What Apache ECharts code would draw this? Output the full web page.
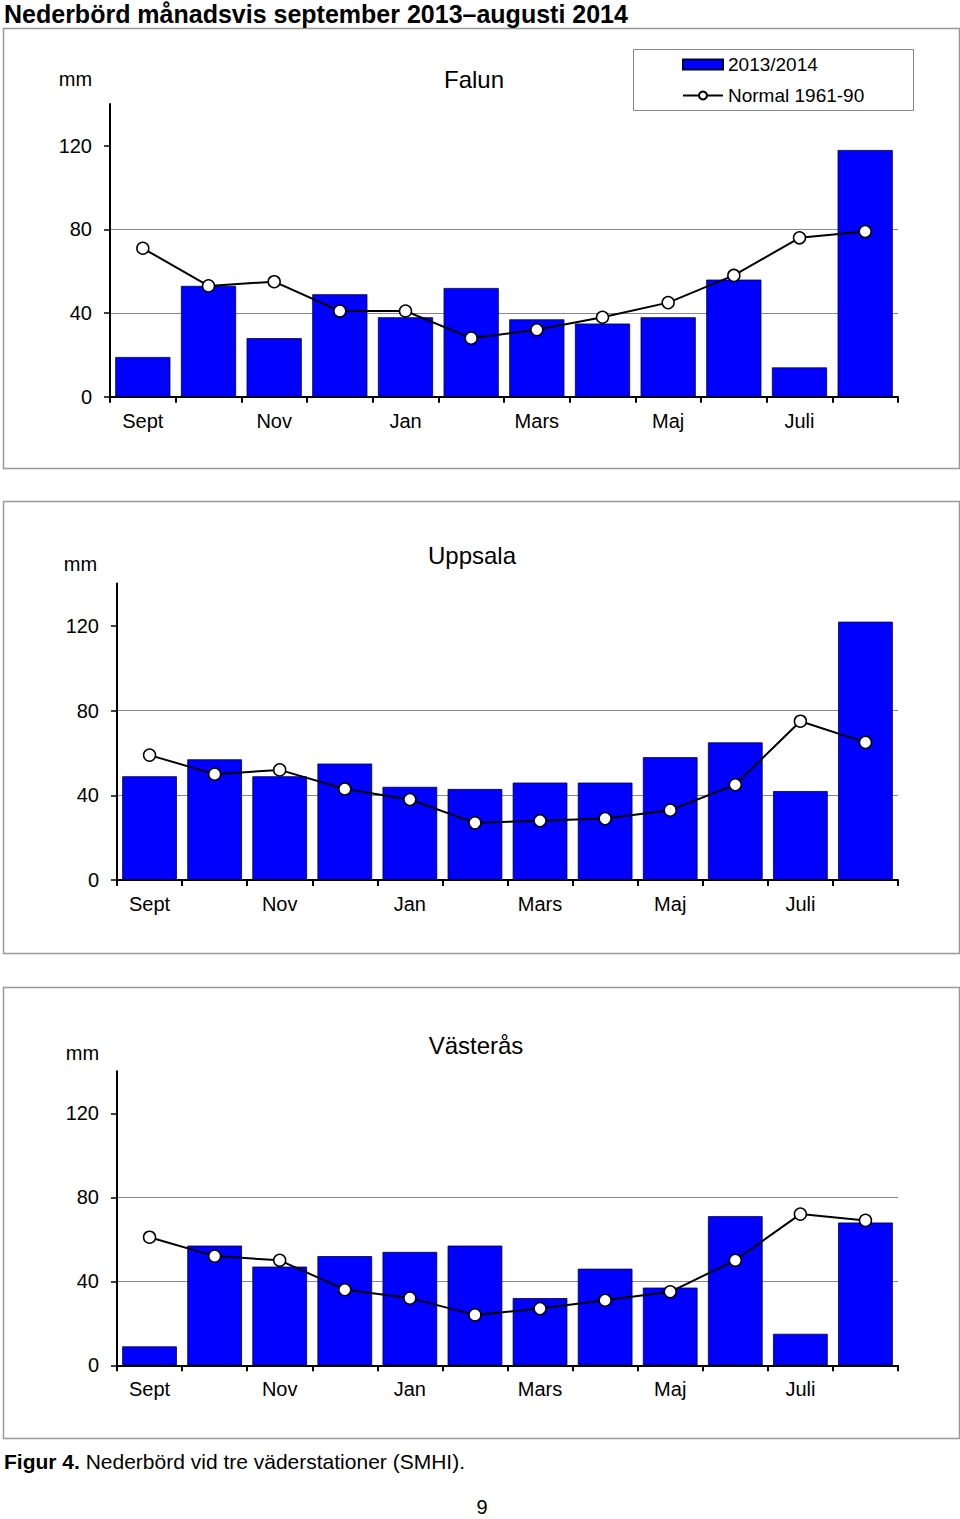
<!DOCTYPE html>
<html><head><meta charset="utf-8">
<script src="https://cdn.jsdelivr.net/npm/echarts@6/dist/echarts.min.js"></script>
<style>html,body{margin:0;padding:0;background:#fff}#c{width:960px;height:1519px}</style>
</head><body><div id="c"></div>
<script>
// ---- data ----
const months = ['Sept','Okt','Nov','Dec','Jan','Feb','Mars','Apr','Maj','Juni','Juli','Aug'];
const yTicks = [0, 40, 80, 120];
const stations = ['Falun', 'Uppsala', 'Västerås'];
const falun2013 = [19, 53, 28, 49, 38, 52, 37, 35, 38, 56, 14, 118];
const falunNormal = [71, 53, 55, 41, 41, 28, 32, 38, 45, 58, 76, 79];
const uppsala2013 = [49, 57, 49, 55, 44, 43, 46, 46, 58, 65, 42, 122];
const uppsalaNormal = [59, 50, 52, 43, 38, 27, 28, 29, 33, 45, 75, 65];
const vasteras2013 = [9, 57, 47, 52, 54, 57, 32, 46, 37, 71, 15, 68];
const vasterasNormal = [61, 52, 50, 36, 32, 24, 27, 31, 35, 50, 72, 69];
const barValues = [falun2013, uppsala2013, vasteras2013];
const lineValues = [falunNormal, uppsalaNormal, vasterasNormal];
const seriesNames = ['2013/2014', 'Normal 1961-90'];

// ---- layout ----
const FF = '"Liberation Sans", Arial, Helvetica, sans-serif';
const grids = [
  {left: 110, top: 104, width: 788, height: 292.7},
  {left: 117, top: 583.6, width: 781, height: 296.4},
  {left: 117, top: 1071.3, width: 781, height: 294}
];
const frames = [[3, 28, 956, 440], [3, 501, 956, 452], [3, 987, 956, 451]];
const mmPos = [[75.5, 79], [80.5, 564], [82.5, 1053]];
const titlePos = [[474, 79], [472, 555], [476, 1045]];

const xAxes = [], yAxes = [], series = [], graphics = [];
for (let i = 0; i < 3; i++) {
  xAxes.push({
    type: 'category', gridIndex: i, data: months, boundaryGap: true,
    axisLine: {lineStyle: {color: '#000', width: 2}},
    axisTick: {show: true, interval: 0, length: 6, lineStyle: {color: '#000', width: 2}},
    axisLabel: {interval: 1, color: '#000', fontSize: 20, fontFamily: FF, margin: 14},
    splitLine: {show: false}
  });
  yAxes.push({
    type: 'value', gridIndex: i, min: 0, max: 140,
    axisLine: {show: true, lineStyle: {color: '#000', width: 2}},
    axisTick: {show: true, length: 6, customValues: yTicks, lineStyle: {color: '#000', width: 1.5}},
    axisLabel: {customValues: yTicks, color: '#000', fontSize: 20, fontFamily: FF, margin: 18},
    splitLine: {show: true, showMaxLine: false, lineStyle: {color: '#888', width: 1}}
  });
  series.push({
    name: seriesNames[0], type: 'bar', xAxisIndex: i, yAxisIndex: i,
    data: barValues[i], barWidth: '84%',
    itemStyle: {color: '#0000ff', borderColor: '#000033', borderWidth: 0.8},
    animation: false
  });
  series.push({
    name: seriesNames[1], type: 'line', xAxisIndex: i, yAxisIndex: i,
    data: lineValues[i], symbol: 'circle', symbolSize: 12, z: 5,
    lineStyle: {color: '#000', width: 2},
    itemStyle: {color: '#fff', borderColor: '#000', borderWidth: 1.5},
    animation: false
  });
  const f = frames[i];
  graphics.push({type: 'rect', shape: {x: f[0] + 0.5, y: f[1] + 0.5, width: f[2], height: f[3]},
    style: {fill: 'none', stroke: '#999', lineWidth: 1.5}, z: -1});
  graphics.push({type: 'text', x: mmPos[i][0], y: mmPos[i][1],
    style: {text: 'mm', fontSize: 20, fontFamily: FF, fill: '#000', align: 'center', verticalAlign: 'middle'}});
  graphics.push({type: 'text', x: titlePos[i][0], y: titlePos[i][1],
    style: {text: stations[i], fontSize: 24, fontFamily: FF, fill: '#000', align: 'center', verticalAlign: 'middle'}});
}
// legend box
graphics.push({type: 'rect', shape: {x: 633.5, y: 49.5, width: 280, height: 61},
  style: {fill: '#fff', stroke: '#888', lineWidth: 1}, z: -1});
// heading, caption, page number
graphics.push({type: 'text', x: 4, y: 14,
  style: {text: 'Nederbörd månadsvis september 2013–augusti 2014', fontSize: 25, fontWeight: 'bold',
    fontFamily: FF, fill: '#000', verticalAlign: 'middle'}});
graphics.push({type: 'text', x: 4, y: 1461,
  style: {text: '{b|Figur 4.} Nederbörd vid tre väderstationer (SMHI).', fontSize: 21, fontFamily: FF,
    fill: '#000', verticalAlign: 'middle',
    rich: {b: {fontWeight: 'bold', fontSize: 21, fontFamily: FF, fill: '#000'}}}});
graphics.push({type: 'text', x: 482, y: 1507,
  style: {text: '9', fontSize: 20, fontFamily: FF, fill: '#000', align: 'center', verticalAlign: 'middle'}});

const chart = echarts.init(document.getElementById('c'), null, {renderer: 'svg'});
chart.setOption({
  animation: false,
  backgroundColor: '#fff',
  grid: grids.map(g => Object.assign({containLabel: false}, g)),
  xAxis: xAxes,
  yAxis: yAxes,
  legend: {
    data: [{name: seriesNames[0], icon: 'rect'}, {name: seriesNames[1]}],
    orient: 'vertical', left: 682, top: 55, itemWidth: 40, itemHeight: 10,
    itemGap: 12, padding: 0,
    textStyle: {fontSize: 19, fontFamily: FF, color: '#000'}
  },
  graphic: graphics,
  series: series
});
</script>
</body></html>
